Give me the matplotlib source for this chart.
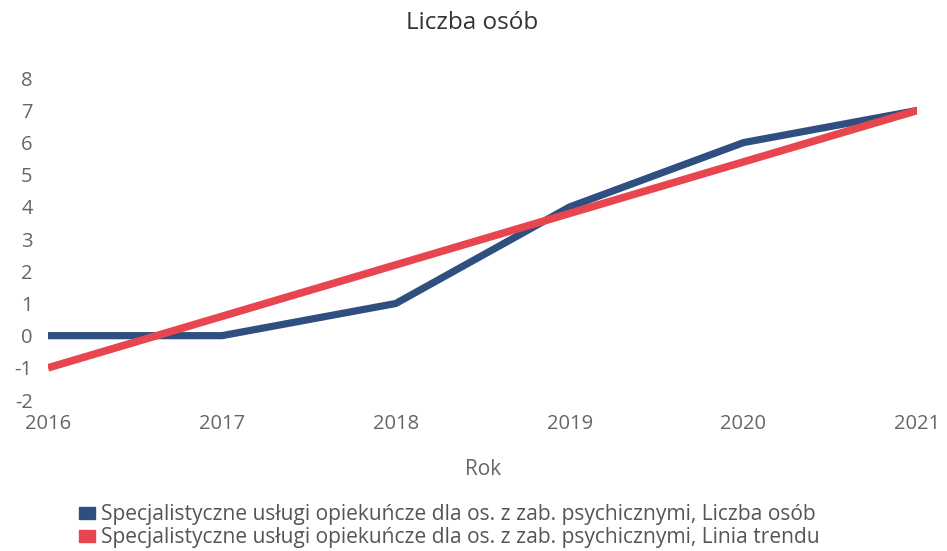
import matplotlib.pyplot as plt
from matplotlib.patches import Patch

plt.rcParams['font.family'] = ['Open Sans', 'DejaVu Sans']
plt.rcParams['axes.unicode_minus'] = False

# data
years = [2016, 2017, 2018, 2019, 2020, 2021]
liczba_osob = [0, 0, 1, 4, 6, 7]
linia_trendu = [-1, 0.6, 2.2, 3.8, 5.4, 7]
series_names = ["Specjalistyczne usługi opiekuńcze dla os. z zab. psychicznymi, Liczba osób",
                "Specjalistyczne usługi opiekuńcze dla os. z zab. psychicznymi, Linia trendu"]
blue = "#2e4f7f"
red = "#e8464e"

fig = plt.figure(figsize=(9.47, 5.51), dpi=100)
ax = fig.add_axes([0.0507, 0.274, 0.918, 0.584])

ax.plot(years, liczba_osob, color=blue, lw=5.2, solid_capstyle="butt", solid_joinstyle="miter")
ax.plot(years, linia_trendu, color=red, lw=5.5, solid_capstyle="butt")

ax.set_xlim(2016, 2021)
ax.set_ylim(-2, 8)
ax.set_yticks(range(-2, 9))
ax.set_xticks(years)
ax.tick_params(length=0, labelsize=14.5, labelcolor="#666666")
ax.tick_params(axis="y", pad=11)
ax.tick_params(axis="x", pad=10)
for s in ax.spines.values():
    s.set_visible(False)

ax.set_xlabel("Rok", fontsize=15, color="#666666", labelpad=18)
fig.text(0.499, 0.958, "Liczba osób", ha="center", va="center", fontsize=17.5, color="#333333")

handles = [Patch(facecolor=blue, edgecolor=blue), Patch(facecolor=red, edgecolor=red)]
fig.legend(handles, series_names, loc="upper left", bbox_to_anchor=(0.072, 0.104),
           frameon=False, fontsize=15.1, labelcolor="#555555", handlelength=0.8,
           handleheight=0.5, handletextpad=0.25, labelspacing=0.1, borderpad=0)

fig.savefig("out.png", dpi=100)
